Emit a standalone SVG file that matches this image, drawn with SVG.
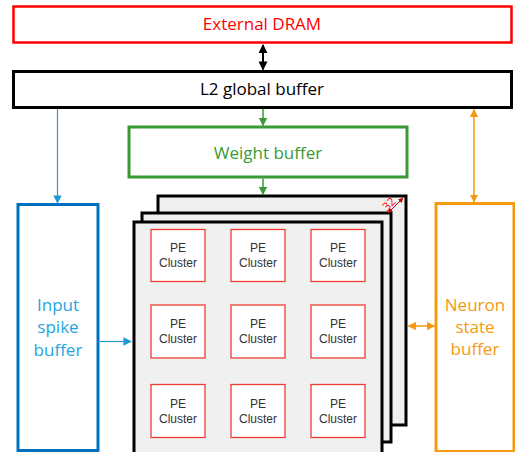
<svg xmlns="http://www.w3.org/2000/svg" width="515" height="452" viewBox="0 0 515 452">
<defs>
<style>
text{font-family:"Open Sans","Noto Sans","Liberation Sans",sans-serif;text-anchor:middle}
.big{font-size:17px}
.pe rect{fill:#fff;stroke:#f03c32;stroke-width:1.3}
.pe text{font-family:"Liberation Sans","Open Sans",sans-serif;font-size:12px;fill:#333}
.layer{fill:#f0f0f0;stroke:#000;stroke-width:3}
</style>
<marker id="ak" viewBox="0 0 10 10" refX="9" refY="5" markerWidth="4.5" markerHeight="4.5" orient="auto-start-reverse"><path d="M0,0L10,5L0,10z" fill="#000"/></marker>
<marker id="ag" viewBox="0 0 10 10" refX="9" refY="5" markerWidth="5.5" markerHeight="5.5" orient="auto-start-reverse"><path d="M0,0L10,5L0,10z" fill="#3a9a35"/></marker>
<marker id="ab" viewBox="0 0 10 10" refX="9" refY="5" markerWidth="7" markerHeight="7" orient="auto-start-reverse"><path d="M0,0L10,5L0,10z" fill="#1e9ad6"/></marker>
<marker id="ao" viewBox="0 0 10 10" refX="9" refY="5" markerWidth="5.5" markerHeight="5.5" orient="auto-start-reverse"><path d="M0,0L10,5L0,10z" fill="#f39a12"/></marker>
<marker id="ar" viewBox="0 0 10 10" refX="9" refY="5" markerWidth="5" markerHeight="5" orient="auto-start-reverse"><path d="M0,0L10,5L0,10z" fill="#c00000"/></marker>
</defs>
<rect width="515" height="452" fill="#fff"/>

<g id="dram">
<rect x="13.5" y="6.5" width="498" height="36" fill="#fff" stroke="#ff0000" stroke-width="2.5"/>
<text class="big" x="262" y="30" fill="#ff0000">External DRAM</text>
</g>

<g id="l2">
<rect x="13.5" y="71.5" width="498" height="36" fill="#fff" stroke="#000" stroke-width="3"/>
<text class="big" x="262" y="95" fill="#000">L2 global buffer</text>
</g>

<g id="weight">
<rect x="129" y="127" width="278" height="50" fill="#fff" stroke="#3a9a35" stroke-width="3"/>
<text class="big" x="268" y="159" fill="#3a9a35">Weight buffer</text>
</g>

<g id="input">
<rect x="18" y="204.5" width="80" height="246" fill="#fff" stroke="#0070c0" stroke-width="3"/>
<text class="big" x="58" y="311" fill="#1fa5e0">Input</text>
<text class="big" x="58" y="333" fill="#1fa5e0">spike</text>
<text class="big" x="58" y="356" fill="#1fa5e0">buffer</text>
</g>

<g id="neuron">
<rect x="436" y="203.5" width="78" height="248" fill="#fff" stroke="#f39a12" stroke-width="3"/>
<text class="big" x="475" y="311" fill="#f39a12">Neuron</text>
<text class="big" x="475" y="333" fill="#f39a12">state</text>
<text class="big" x="475" y="355" fill="#f39a12">buffer</text>
</g>

<g id="pe-array">
<rect class="layer" x="158" y="196" width="248" height="229"/>
<rect class="layer" x="142" y="213" width="249" height="229"/>
<rect class="layer" x="134" y="222" width="248" height="232"/>
<line x1="388" y1="213" x2="403" y2="198" stroke="#c00000" stroke-width="1" marker-start="url(#ar)" marker-end="url(#ar)"/>
<text x="389" y="208" font-size="11.5" fill="#ff0000" transform="rotate(-45 389 204)">32</text>
<g class="pe">
<rect x="151" y="229.5" width="54" height="52"/><text x="178" y="252">PE</text><text x="178" y="267">Cluster</text>
<rect x="231" y="229.5" width="54" height="52"/><text x="258" y="252">PE</text><text x="258" y="267">Cluster</text>
<rect x="311" y="229.5" width="54" height="52"/><text x="338" y="252">PE</text><text x="338" y="267">Cluster</text>
<rect x="151" y="305" width="54" height="53"/><text x="178" y="328">PE</text><text x="178" y="343">Cluster</text>
<rect x="231" y="305" width="54" height="53"/><text x="258" y="328">PE</text><text x="258" y="343">Cluster</text>
<rect x="311" y="305" width="54" height="53"/><text x="338" y="328">PE</text><text x="338" y="343">Cluster</text>
<rect x="151" y="384.5" width="54" height="53"/><text x="178" y="408">PE</text><text x="178" y="423">Cluster</text>
<rect x="231" y="384.5" width="54" height="53"/><text x="258" y="408">PE</text><text x="258" y="423">Cluster</text>
<rect x="311" y="384.5" width="54" height="53"/><text x="338" y="408">PE</text><text x="338" y="423">Cluster</text>
</g>
</g>

<g id="connectors" fill="none">
<line x1="263" y1="45" x2="263" y2="69.5" stroke="#000" stroke-width="2" marker-start="url(#ak)" marker-end="url(#ak)"/>
<line x1="263" y1="109" x2="263" y2="125.5" stroke="#3a9a35" stroke-width="1.5" marker-end="url(#ag)"/>
<line x1="263" y1="178.5" x2="263" y2="194.5" stroke="#3a9a35" stroke-width="1.5" marker-end="url(#ag)"/>
<line x1="57.5" y1="109" x2="57.5" y2="203" stroke="#1e9ad6" stroke-width="1.2" marker-end="url(#ab)"/>
<line x1="99.5" y1="341.5" x2="131" y2="341.5" stroke="#1e9ad6" stroke-width="1.2" marker-end="url(#ab)"/>
<line x1="474" y1="109.5" x2="474" y2="202" stroke="#f39a12" stroke-width="1.5" marker-start="url(#ao)" marker-end="url(#ao)"/>
<line x1="408.5" y1="326" x2="434.5" y2="326" stroke="#f39a12" stroke-width="1.5" marker-start="url(#ao)" marker-end="url(#ao)"/>
</g>
</svg>
